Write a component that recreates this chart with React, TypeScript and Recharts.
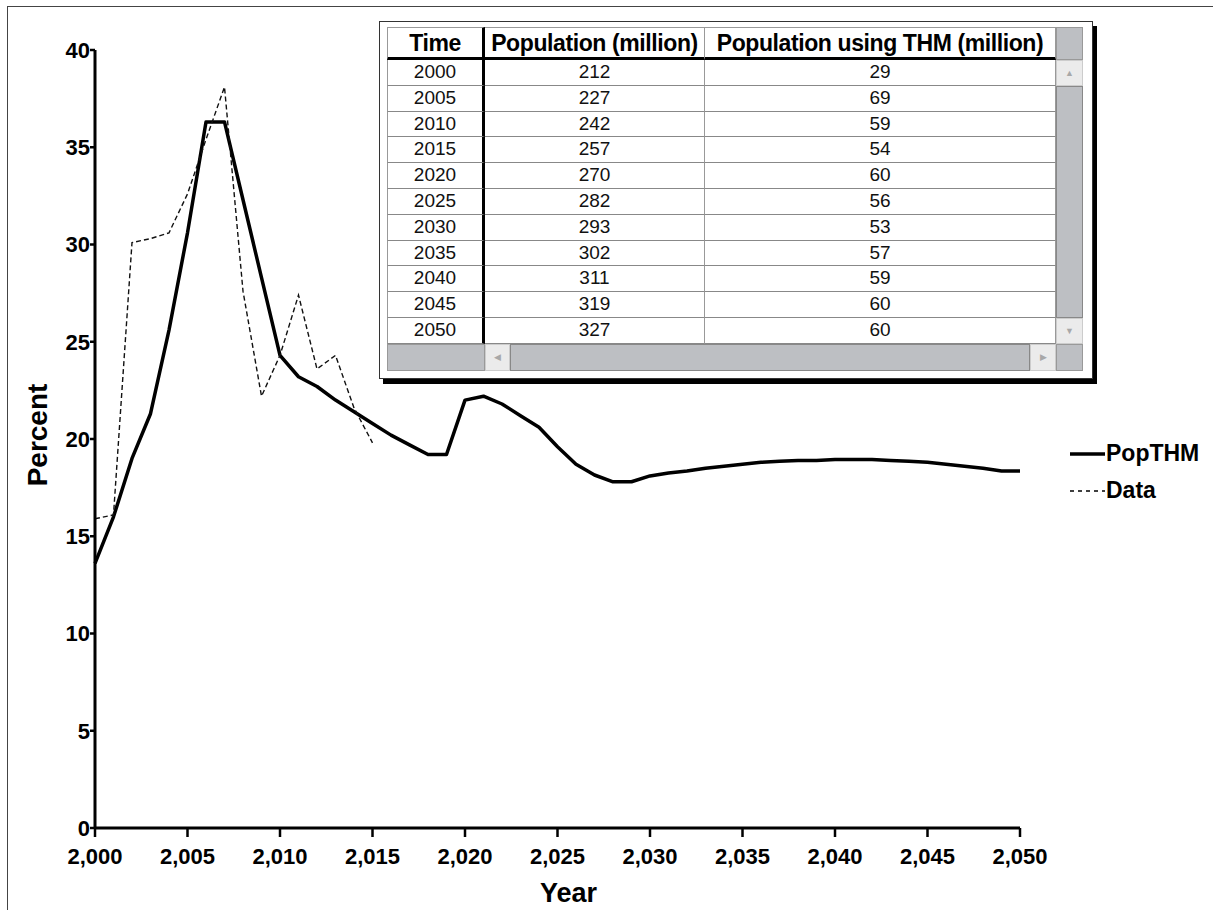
import React from "react";
import { LineChart, Line, XAxis, YAxis, Legend } from "recharts";

// simulated share of population using THM, yearly
const years = [
  2000, 2001, 2002, 2003, 2004, 2005, 2006, 2007, 2008, 2009, 2010, 2011, 2012,
  2013, 2014, 2015, 2016, 2017, 2018, 2019, 2020, 2021, 2022, 2023, 2024, 2025,
  2026, 2027, 2028, 2029, 2030, 2031, 2032, 2033, 2034, 2035, 2036, 2037, 2038,
  2039, 2040, 2041, 2042, 2043, 2044, 2045, 2046, 2047, 2048, 2049, 2050,
];
const popThm = [
  13.6, 16.0, 19.0, 21.3, 25.6, 30.6, 36.3, 36.3, 32.3, 28.3, 24.3, 23.2, 22.7,
  22.0, 21.4, 20.8, 20.2, 19.7, 19.2, 19.2, 22.0, 22.2, 21.8, 21.2, 20.6, 19.6,
  18.7, 18.15, 17.8, 17.8, 18.1, 18.25, 18.35, 18.5, 18.6, 18.7, 18.8, 18.85,
  18.9, 18.9, 18.95, 18.95, 18.95, 18.9, 18.85, 18.8, 18.7, 18.6, 18.5, 18.35,
  18.35,
];

// observed data, only up to 2015
const obsYears = [
  2000, 2001, 2002, 2003, 2004, 2005, 2006, 2007, 2008, 2009, 2010, 2011, 2012,
  2013, 2014, 2015,
];
const obsValues = [
  15.9, 16.1, 30.1, 30.3, 30.6, 32.6, 35.4, 38.1, 27.6, 22.2, 24.3, 27.4, 23.6,
  24.3, 21.6, 19.8,
];

const xTicks = [2000, 2005, 2010, 2015, 2020, 2025, 2030, 2035, 2040, 2045, 2050];
const yTicks = [0, 5, 10, 15, 20, 25, 30, 35, 40];

// table in the corner
const tableHeaders = ["Time", "Population (million)", "Population using THM (million)"];
const tableYears = [2000, 2005, 2010, 2015, 2020, 2025, 2030, 2035, 2040, 2045, 2050];
const tablePop = [212, 227, 242, 257, 270, 282, 293, 302, 311, 319, 327];
const tableThm = [29, 69, 59, 54, 60, 56, 53, 57, 59, 60, 60];

const chartData = years.map((year, i) => {
  const j = obsYears.indexOf(year);
  return {
    year,
    PopTHM: popThm[i],
    Data: j >= 0 ? obsValues[j] : undefined,
  };
});

const FONT = "'Liberation Sans', Arial, Helvetica, sans-serif";
const GREY = "#bdbfc3";
const BTN = "#ebebeb";

const legendOrder = ["PopTHM", "Data"];
const legendStyles: Record<string, { w: number; dash?: string }> = {
  PopTHM: { w: 3.5 },
  Data: { w: 1.4, dash: "4 4" },
};

const renderLegend = (props: any) => {
  const items = [...(props.payload || [])].sort(
    (a: any, b: any) => legendOrder.indexOf(a.value) - legendOrder.indexOf(b.value)
  );
  return (
    <div style={{ fontFamily: FONT, fontWeight: "bold", fontSize: 23, color: "#000" }}>
      {items.map((entry: any) => {
        const st = legendStyles[entry.value] || { w: 2 };
        return (
          <div key={entry.value} style={{ display: "flex", alignItems: "center", height: 37 }}>
            <svg width={35} height={10}>
              <line x1={0} y1={5} x2={35} y2={5} stroke="#000" strokeWidth={st.w} strokeDasharray={st.dash} />
            </svg>
            <span style={{ marginLeft: 1 }}>{entry.value}</span>
          </div>
        );
      })}
    </div>
  );
};

const colX = [387, 485, 705, 1056, 1083];
const headTop = 27;
const headH = 33;
const rowTop = 60;
const rowH = 25.8;

function Box(props: { l: number; t: number; w: number; h: number; style?: React.CSSProperties; children?: React.ReactNode }) {
  return (
    <div
      style={{
        position: "absolute",
        left: props.l,
        top: props.t,
        width: props.w,
        height: props.h,
        boxSizing: "border-box",
        ...props.style,
      }}
    >
      {props.children}
    </div>
  );
}

function DataTable() {
  const rows = tableYears.map((y, i) => [String(y), String(tablePop[i]), String(tableThm[i])]);
  const rowsBottom = rowTop + rows.length * rowH;
  const arrow: React.CSSProperties = {
    color: "#a8a8a8",
    fontSize: 9,
    textAlign: "center",
    display: "flex",
    alignItems: "center",
    justifyContent: "center",
    fontFamily: FONT,
  };
  return (
    <>
      <Box l={379} t={21} w={714} h={358} style={{ background: "#fff", border: "1.5px solid #333", boxShadow: "4px 5px 0 #000" }} />
      {tableHeaders.map((h, i) => (
        <Box
          key={h}
          l={colX[i]}
          t={headTop}
          w={colX[i + 1] - colX[i]}
          h={headH}
          style={{
            borderTop: "1px solid #999",
            borderLeft: i === 0 ? "1px solid #999" : undefined,
            borderRight: i === 0 ? "3px solid #000" : "1px solid #999",
            borderBottom: "3px solid #000",
            fontFamily: FONT,
            fontWeight: "bold",
            fontSize: 23,
            lineHeight: "30px",
            textAlign: "center",
            whiteSpace: "nowrap",
            overflow: "visible",
            color: "#000",
            letterSpacing: -0.4,
          }}
        >
          {h}
        </Box>
      ))}
      {rows.map((r, ri) =>
        r.map((v, ci) => (
          <Box
            key={ri + "-" + ci}
            l={colX[ci]}
            t={rowTop + ri * rowH}
            w={colX[ci + 1] - colX[ci]}
            h={rowH}
            style={{
              borderLeft: ci === 0 ? "1px solid #999" : undefined,
              borderRight: ci === 0 ? "3px solid #000" : "1px solid #999",
              borderBottom: "1.5px solid #888",
              fontFamily: FONT,
              fontSize: 19,
              lineHeight: rowH - 2 + "px",
              textAlign: "center",
              color: "#111",
            }}
          >
            {v}
          </Box>
        ))
      )}
      {/* vertical scroll bar */}
      <Box l={colX[3]} t={headTop} w={27} h={headH} style={{ background: GREY, border: "1px solid #999" }} />
      <Box l={colX[3]} t={rowTop} w={27} h={26} style={{ ...arrow, background: BTN, border: "1px solid #ccc" }}>▲</Box>
      <Box l={colX[3]} t={rowTop + 26} w={27} h={rowsBottom - rowTop - 52} style={{ background: GREY, border: "1.5px solid #888" }} />
      <Box l={colX[3]} t={rowsBottom - 26} w={27} h={26} style={{ ...arrow, background: BTN, border: "1px solid #ccc" }}>▼</Box>
      {/* horizontal scroll bar */}
      <Box l={colX[0]} t={rowsBottom} w={colX[1] - colX[0]} h={27} style={{ background: GREY, border: "1px solid #999" }} />
      <Box l={colX[1]} t={rowsBottom} w={25} h={27} style={{ ...arrow, background: BTN, border: "1px solid #ccc" }}>◀</Box>
      <Box l={colX[1] + 25} t={rowsBottom} w={colX[3] - colX[1] - 51} h={27} style={{ background: GREY, border: "1.5px solid #888" }} />
      <Box l={colX[3] - 26} t={rowsBottom} w={26} h={27} style={{ ...arrow, background: BTN, border: "1px solid #ccc" }}>▶</Box>
      <Box l={colX[3]} t={rowsBottom} w={27} h={27} style={{ background: GREY, border: "1px solid #999" }} />
    </>
  );
}

const yLabel = (props: any) => {
  const vb = props.viewBox || { x: 0, y: 0, width: 0, height: 0 };
  const cx = vb.x + 32;
  const cy = vb.y + vb.height / 2 - 4;
  return (
    <text
      transform={`translate(${cx},${cy}) rotate(-90)`}
      textAnchor="middle"
      dominantBaseline="central"
      fontFamily={FONT}
      fontWeight="bold"
      fontSize={28}
      fill="#000"
    >
      Percent
    </text>
  );
};

const xLabel = (props: any) => {
  const vb = props.viewBox || { x: 0, y: 0, width: 0, height: 0 };
  return (
    <text
      x={vb.x + vb.width / 2 + 11}
      y={vb.y + 65}
      textAnchor="middle"
      dominantBaseline="central"
      fontFamily={FONT}
      fontWeight="bold"
      fontSize={27}
      fill="#000"
    >
      Year
    </text>
  );
};

export default function App() {
  const tickStyle = { fontFamily: FONT, fontWeight: "bold" as const, fontSize: 22, fill: "#000" };
  return (
    <div style={{ position: "absolute", left: 0, top: 0, width: 1213, height: 910, background: "#fff" }}>
      <div
        style={{
          position: "absolute",
          left: 7,
          top: 6,
          right: 0,
          bottom: 0,
          borderTop: "1.5px solid #444",
          borderLeft: "1.5px solid #444",
        }}
      />
      <div style={{ position: "absolute", left: 0, top: 0 }}>
        <LineChart width={1213} height={910} data={chartData} margin={{ top: 50, right: 193, left: 5, bottom: 2 }}>
          <XAxis
            dataKey="year"
            type="number"
            domain={[2000, 2050]}
            ticks={xTicks}
            interval={0}
            height={80}
            tickSize={9}
            tickMargin={11}
            tickFormatter={(v: number) => v.toLocaleString("en-US")}
            tick={tickStyle}
            axisLine={{ stroke: "#000", strokeWidth: 3 }}
            tickLine={{ stroke: "#000", strokeWidth: 2.5 }}
            label={{ content: xLabel }}
          />
          <YAxis
            type="number"
            domain={[0, 40]}
            ticks={yTicks}
            interval={0}
            width={90}
            tickSize={5}
            tickMargin={0}
            tick={tickStyle}
            axisLine={{ stroke: "#000", strokeWidth: 3 }}
            tickLine={{ stroke: "#000", strokeWidth: 2.5 }}
            label={{ content: yLabel }}
          />
          <Legend
            layout="horizontal"
            verticalAlign="middle"
            align="center"
            content={renderLegend}
            wrapperStyle={{ left: 1070, top: 435, width: 140 }}
          />
          <Line
            type="linear"
            dataKey="PopTHM"
            stroke="#000"
            strokeWidth={3.5}
            dot={false}
            isAnimationActive={false}
            strokeLinejoin="round"
          />
          <Line
            type="linear"
            dataKey="Data"
            stroke="#111"
            strokeWidth={1.4}
            strokeDasharray="5 3"
            dot={false}
            connectNulls={false}
            isAnimationActive={false}
          />
        </LineChart>
      </div>
      <DataTable />
    </div>
  );
}
